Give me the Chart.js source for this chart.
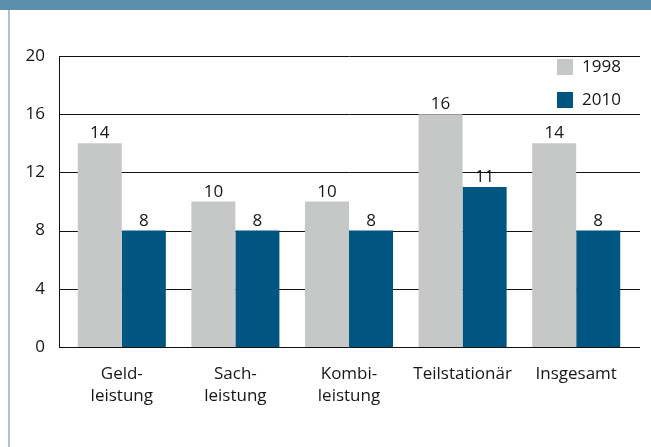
<!DOCTYPE html>
<html>
<head>
<meta charset="utf-8">
<script src="https://cdn.jsdelivr.net/npm/chart.js@4/dist/chart.umd.min.js"></script>
<style>
  body { margin: 0; background: #fff; }
  #band { position: absolute; left: 0; top: 0; width: 651px; height: 10px; background: #5b8fac; }
  #edge { position: absolute; left: 8px; top: 10px; width: 2px; height: 437px; background: #a8c4d8; }
  #myChart { position: absolute; left: 0; top: 0; }
</style>
</head>
<body>
<div id="band"></div>
<div id="edge"></div>
<canvas id="myChart" width="651" height="447"></canvas>
<script>
const labels = [['Geld-', 'leistung'], ['Sach-', 'leistung'], ['Kombi-', 'leistung'], 'Teilstationär', 'Insgesamt']
const values1998 = [14, 10, 10, 16, 14]
const values2010 = [8, 8, 8, 11, 8]
const yTicks = [0, 4, 8, 12, 16, 20]

const font = {family: '"Open Sans", sans-serif', size: 17}
const textColor = '#161616'

// grid lines + y axis line, a bit wider than the category area
const gridPlugin = {
    id: 'grid',
    beforeDatasetsDraw(chart) {
        const {ctx, chartArea} = chart
        const y = chart.scales.y
        const left = chartArea.left - 6
        const right = chartArea.right + 7
        ctx.save()
        ctx.strokeStyle = '#111'
        ctx.lineWidth = 1
        yTicks.forEach(t => {
            const py = Math.round(y.getPixelForValue(t)) + 0.5
            ctx.beginPath()
            ctx.moveTo(left, py)
            ctx.lineTo(right, py)
            ctx.stroke()
        })
        ctx.beginPath()
        ctx.moveTo(left + 0.5, Math.round(y.getPixelForValue(20)))
        ctx.lineTo(left + 0.5, Math.round(y.getPixelForValue(0)) + 1)
        ctx.stroke()
        ctx.restore()
    }
}

const valuePlugin = {
    id: 'values',
    afterDatasetsDraw(chart) {
        const {ctx} = chart
        ctx.save()
        ctx.font = `${font.size}px ${font.family}`
        ctx.fillStyle = textColor
        ctx.textAlign = 'center'
        ctx.textBaseline = 'alphabetic'
        chart.data.datasets.forEach((ds, i) => {
            chart.getDatasetMeta(i).data.forEach((bar, j) => {
                ctx.fillText(ds.data[j], bar.x, bar.y - 5)
            })
        })
        ctx.restore()
    }
}

const legendPlugin = {
    id: 'boxLegend',
    afterDraw(chart) {
        const {ctx, chartArea} = chart
        ctx.save()
        ctx.font = `${font.size}px ${font.family}`
        ctx.textBaseline = 'middle'
        chart.data.datasets.forEach((ds, i) => {
            const x = chartArea.right - 76
            const top = chartArea.top + 3 + i * 33
            ctx.fillStyle = ds.backgroundColor
            ctx.fillRect(x, top, 16, 16)
            ctx.fillStyle = textColor
            ctx.fillText(ds.label, x + 25, top + 8)
        })
        ctx.restore()
    }
}

var ctx = document.getElementById('myChart').getContext('2d')
var myChart = new Chart(ctx, {
    type: 'bar',
    data: {
        labels,
        datasets: [
            {label: '1998', data: values1998, backgroundColor: '#c6c7c7'},
            {label: '2010', data: values2010, backgroundColor: '#005581'}
        ]
    },
    options: {
        responsive: false,
        animation: false,
        layout: {padding: {top: 56, right: 18, left: 0, bottom: 0}},
        categoryPercentage: 0.775,
        barPercentage: 1,
        plugins: {legend: {display: false}, tooltip: {enabled: false}},
        scales: {
            x: {
                grid: {display: false},
                border: {display: false},
                ticks: {font: {...font, lineHeight: 1.3}, color: textColor, padding: 8, maxRotation: 0},
                afterFit(scale) { scale.height = 100 }
            },
            y: {
                min: 0,
                max: 20,
                ticks: {stepSize: 4, font, color: textColor, padding: 12},
                grid: {display: false},
                border: {display: false},
                afterFit(scale) { scale.width = 65 }
            }
        }
    },
    plugins: [gridPlugin, valuePlugin, legendPlugin]
})
</script>
</body>
</html>
